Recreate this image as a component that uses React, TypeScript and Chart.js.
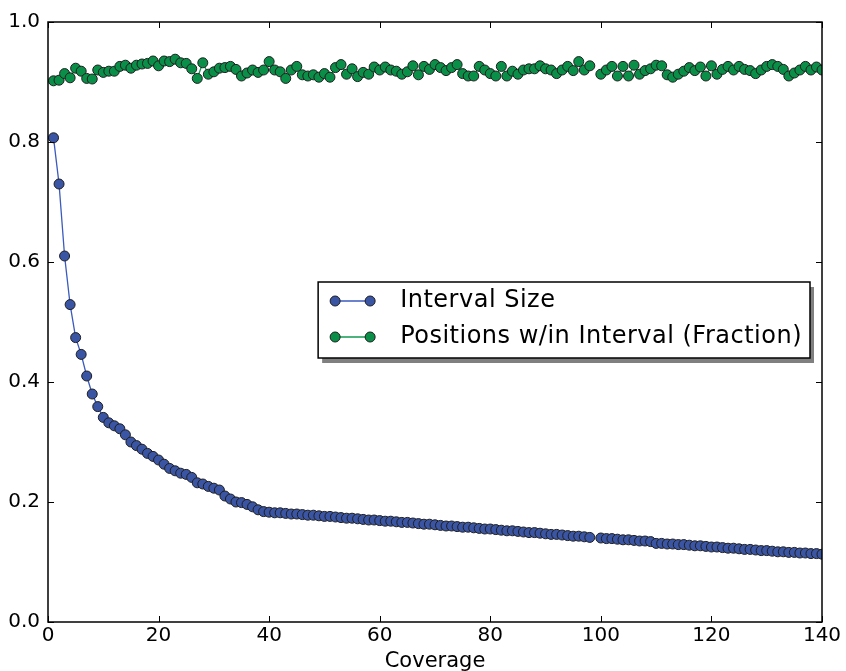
import React, { useEffect, useRef } from "react";
import { Chart, registerables } from "chart.js";

Chart.register(...registerables);

// ---------- data ----------
const coverage = [
  1, 2, 3, 4, 5, 6, 7, 8, 9, 10, 11, 12, 13, 14, 15, 16, 17, 18, 19, 20,
  21, 22, 23, 24, 25, 26, 27, 28, 29, 30, 31, 32, 33, 34, 35, 36, 37, 38, 39, 40,
  41, 42, 43, 44, 45, 46, 47, 48, 49, 50, 51, 52, 53, 54, 55, 56, 57, 58, 59, 60,
  61, 62, 63, 64, 65, 66, 67, 68, 69, 70, 71, 72, 73, 74, 75, 76, 77, 78, 79, 80,
  81, 82, 83, 84, 85, 86, 87, 88, 89, 90, 91, 92, 93, 94, 95, 96, 97, 98, 99, 100,
  101, 102, 103, 104, 105, 106, 107, 108, 109, 110, 111, 112, 113, 114, 115, 116, 117, 118, 119, 120,
  121, 122, 123, 124, 125, 126, 127, 128, 129, 130, 131, 132, 133, 134, 135, 136, 137, 138, 139, 140,
];

const intervalSize: (number | null)[] = [
  0.807, 0.730, 0.610, 0.529, 0.474, 0.446, 0.410, 0.380, 0.359, 0.341,
  0.332, 0.327, 0.322, 0.312, 0.300, 0.294, 0.288, 0.281, 0.276, 0.270,
  0.263, 0.256, 0.252, 0.248, 0.246, 0.241, 0.232, 0.230, 0.226, 0.223,
  0.220, 0.210, 0.205, 0.200, 0.199, 0.196, 0.192, 0.187, 0.184, 0.183,
  0.182, 0.182, 0.181, 0.180, 0.180, 0.179, 0.178, 0.178, 0.177, 0.176,
  0.176, 0.175, 0.174, 0.173, 0.173, 0.172, 0.171, 0.170, 0.170, 0.169,
  0.168, 0.168, 0.167, 0.166, 0.166, 0.165, 0.164, 0.163, 0.163, 0.162,
  0.161, 0.160, 0.160, 0.159, 0.158, 0.158, 0.157, 0.156, 0.155, 0.155,
  0.154, 0.153, 0.152, 0.152, 0.151, 0.150, 0.149, 0.149, 0.148, 0.147,
  0.146, 0.146, 0.145, 0.144, 0.143, 0.143, 0.142, 0.141, null, 0.140,
  0.139, 0.139, 0.138, 0.137, 0.137, 0.136, 0.135, 0.135, 0.134, 0.131,
  0.131, 0.130, 0.130, 0.129, 0.129, 0.128, 0.127, 0.127, 0.126, 0.125,
  0.125, 0.124, 0.123, 0.123, 0.122, 0.121, 0.121, 0.120, 0.119, 0.119,
  0.118, 0.117, 0.117, 0.116, 0.116, 0.115, 0.115, 0.114, 0.114, 0.113,
];

const positionsFraction: (number | null)[] = [
  0.902, 0.903, 0.914, 0.907, 0.923, 0.918, 0.906, 0.905, 0.920, 0.916,
  0.918, 0.918, 0.926, 0.928, 0.923, 0.928, 0.930, 0.931, 0.935, 0.927,
  0.935, 0.934, 0.938, 0.932, 0.931, 0.922, 0.906, 0.932, 0.913, 0.917,
  0.923, 0.924, 0.926, 0.921, 0.910, 0.915, 0.920, 0.916, 0.920, 0.934,
  0.920, 0.917, 0.906, 0.920, 0.926, 0.912, 0.910, 0.912, 0.908, 0.914,
  0.908, 0.924, 0.929, 0.913, 0.922, 0.909, 0.916, 0.913, 0.925, 0.920,
  0.925, 0.920, 0.918, 0.913, 0.917, 0.927, 0.912, 0.926, 0.921, 0.929,
  0.924, 0.919, 0.924, 0.929, 0.914, 0.910, 0.910, 0.926, 0.920, 0.914,
  0.910, 0.926, 0.910, 0.918, 0.913, 0.920, 0.922, 0.922, 0.927, 0.922,
  0.920, 0.914, 0.920, 0.926, 0.919, 0.934, 0.920, 0.927, null, 0.913,
  0.920, 0.926, 0.910, 0.926, 0.910, 0.928, 0.913, 0.919, 0.922, 0.928,
  0.927, 0.912, 0.908, 0.913, 0.918, 0.924, 0.919, 0.925, 0.910, 0.927,
  0.913, 0.921, 0.926, 0.920, 0.926, 0.921, 0.919, 0.914, 0.920, 0.926,
  0.929, 0.926, 0.921, 0.910, 0.915, 0.920, 0.926, 0.920, 0.925, 0.920,
];

const seriesLabels = ["Interval Size", "Positions w/in Interval (Fraction)"];
const xTicks = [0, 20, 40, 60, 80, 100, 120, 140];
const yTicks = [0, 0.2, 0.4, 0.6, 0.8, 1.0];
const xTitle = "Coverage";

// ---------- styles ----------
const FONT = "'DejaVu Sans', 'Bitstream Vera Sans', sans-serif";
const BLUE_FILL = "#3b55a5";
const BLUE_LINE = "#3a5abd";
const GREEN_FILL = "#0a8f48";
const GREEN_LINE = "#129a52";
const EDGE = "#1e1e1e";

const framePlugin = {
  id: "frameAndTicks",
  afterDatasetsDraw(chart: any) {
    const { ctx, chartArea: a, scales } = chart;
    ctx.save();
    ctx.strokeStyle = "#000";
    ctx.lineWidth = 1;
    const tl = 6;
    ctx.beginPath();
    xTicks.forEach((v) => {
      const px = Math.round(scales.x.getPixelForValue(v)) + 0.5;
      ctx.moveTo(px, a.bottom);
      ctx.lineTo(px, a.bottom - tl);
      ctx.moveTo(px, a.top);
      ctx.lineTo(px, a.top + tl);
    });
    yTicks.forEach((v) => {
      const py = Math.round(scales.y.getPixelForValue(v)) + 0.5;
      ctx.moveTo(a.left, py);
      ctx.lineTo(a.left + tl, py);
      ctx.moveTo(a.right, py);
      ctx.lineTo(a.right - tl, py);
    });
    ctx.stroke();
    ctx.lineWidth = 1.5;
    ctx.strokeRect(a.left, a.top, a.right - a.left, a.bottom - a.top);
    ctx.restore();
  },
};

const legendPlugin = {
  id: "boxLegend",
  afterDraw(chart: any) {
    const { ctx, chartArea: a } = chart;
    ctx.save();
    ctx.font = `24px ${FONT}`;
    try {
      (ctx as any).letterSpacing = "0.5px";
    } catch (e) {}
    const ds = chart.data.datasets;
    const tw = Math.max(...ds.map((d: any) => ctx.measureText(d.label).width));
    const w = 17 + 35 + 30 + tw + 8;
    const h = 76;
    const right = a.right - 12;
    const left = right - w;
    const top = (a.top + a.bottom) / 2 - h / 2 - 2;
    ctx.fillStyle = "#808080";
    ctx.fillRect(left + 4, top + 5, w, h);
    ctx.fillStyle = "#ffffff";
    ctx.fillRect(left, top, w, h);
    ctx.strokeStyle = "#000";
    ctx.lineWidth = 1.5;
    ctx.strokeRect(left, top, w, h);
    ds.forEach((d: any, i: number) => {
      const cy = top + 19 + i * 36;
      const x1 = left + 17;
      const x2 = x1 + 35;
      ctx.strokeStyle = d.borderColor;
      ctx.lineWidth = 1.5;
      ctx.beginPath();
      ctx.moveTo(x1, cy);
      ctx.lineTo(x2, cy);
      ctx.stroke();
      [x1, x2].forEach((cx) => {
        ctx.beginPath();
        ctx.arc(cx, cy, 5, 0, Math.PI * 2);
        ctx.fillStyle = d.pointBackgroundColor;
        ctx.fill();
        ctx.strokeStyle = EDGE;
        ctx.lineWidth = 1;
        ctx.stroke();
      });
      ctx.fillStyle = "#000";
      ctx.textBaseline = "middle";
      ctx.textAlign = "left";
      ctx.fillText(d.label, x2 + 30, cy);
    });
    ctx.restore();
  },
};

export default function App() {
  const ref = useRef<HTMLCanvasElement | null>(null);

  useEffect(() => {
    document.body.style.margin = "0";
    const canvas = ref.current;
    if (!canvas) return;
    const mk = (ys: (number | null)[]) => coverage.map((x, i) => ({ x, y: ys[i] }));
    const chart = new Chart(canvas, {
      type: "line",
      data: {
        datasets: [
          {
            label: seriesLabels[0],
            data: mk(intervalSize) as any,
            borderColor: BLUE_LINE,
            backgroundColor: BLUE_FILL,
            pointBackgroundColor: BLUE_FILL,
            pointBorderColor: EDGE,
            pointBorderWidth: 1,
            pointRadius: 5,
            borderWidth: 1.3,
            tension: 0,
            spanGaps: false,
            clip: 0,
          },
          {
            label: seriesLabels[1],
            data: mk(positionsFraction) as any,
            borderColor: GREEN_LINE,
            backgroundColor: GREEN_FILL,
            pointBackgroundColor: GREEN_FILL,
            pointBorderColor: EDGE,
            pointBorderWidth: 1,
            pointRadius: 5,
            borderWidth: 1.3,
            tension: 0,
            spanGaps: false,
            clip: 0,
          },
        ],
      },
      options: {
        animation: false,
        responsive: false,
        devicePixelRatio: 1,
        layout: { padding: { left: 0, top: 22, right: 24, bottom: 0 } },
        plugins: { legend: { display: false }, tooltip: { enabled: false } },
        scales: {
          x: {
            type: "linear",
            min: 0,
            max: 140,
            afterBuildTicks: (s: any) => {
              s.ticks = xTicks.map((v) => ({ value: v }));
            },
            afterFit: (s: any) => {
              s.height = 49;
            },
            grid: { display: false, drawTicks: false },
            border: { display: false },
            ticks: {
              padding: 2,
              color: "#000",
              font: { family: FONT, size: 20 },
              maxRotation: 0,
              callback: (v: any) => String(v),
            },
            title: {
              display: true,
              text: xTitle,
              color: "#000",
              font: { family: FONT, size: 21 },
              padding: { top: 0, bottom: -3 },
            },
          },
          y: {
            type: "linear",
            min: 0,
            max: 1,
            afterBuildTicks: (s: any) => {
              s.ticks = yTicks.map((v) => ({ value: v }));
            },
            afterFit: (s: any) => {
              s.width = 48;
            },
            grid: { display: false, drawTicks: false },
            border: { display: false },
            ticks: {
              padding: 8,
              color: "#000",
              font: { family: FONT, size: 20 },
              callback: (v: any) => Number(v).toFixed(1),
            },
          },
        },
      },
      plugins: [framePlugin, legendPlugin],
    });
    return () => chart.destroy();
  }, []);

  return (
    <div style={{ width: 846, height: 671, position: "relative", background: "#fff" }}>
      <canvas ref={ref} width={846} height={671} style={{ display: "block" }} />
    </div>
  );
}
